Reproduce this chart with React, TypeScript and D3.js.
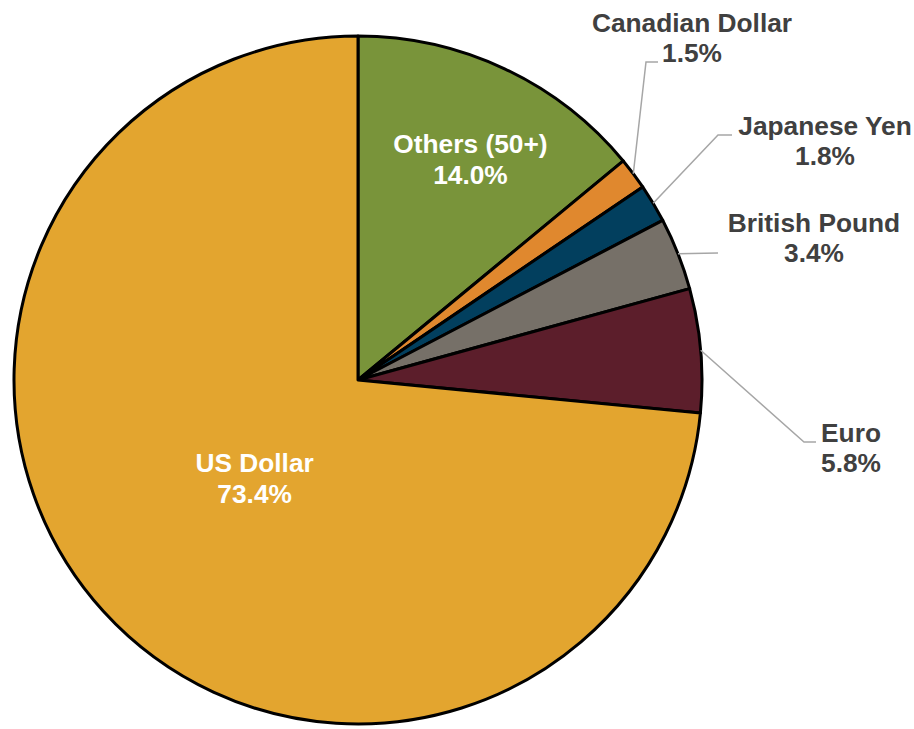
import React, { useEffect, useRef } from "react";
import * as d3 from "d3";

// Currency shares, clockwise from 12 o'clock
const currencies = ["Others (50+)", "Canadian Dollar", "Japanese Yen", "British Pound", "Euro", "US Dollar"];
const shares = [14.0, 1.5, 1.8, 3.4, 5.8, 73.4];
const colors = ["#79943a", "#e0882e", "#023f5e", "#767068", "#5c1e2b", "#e3a52f"];

// label placement (kept apart from the data)
const insideLabels: Record<string, { r: number; a?: number }> = {
  "Others (50+)": { r: 0.72, a: 27 },
  "US Dollar": { r: 0.415, a: 226.4 },
};
const outsideLabels: Record<string, { elbow: [number, number] | null; end: [number, number]; tx: number; ty: number }> = {
  "Canadian Dollar": { elbow: [646, 62], end: [658, 62], tx: 692, ty: 32 },
  "Japanese Yen": { elbow: [718, 135], end: [732, 135], tx: 825, ty: 135 },
  "British Pound": { elbow: null, end: [718, 253], tx: 814, ty: 232 },
  Euro: { elbow: [804, 442], end: [816, 442], tx: 851, ty: 442 },
};

const App = () => {
  const chartRef = useRef<HTMLDivElement>(null);

  useEffect(() => {
    document.body.style.margin = "0";
    const width = 914;
    const height = 729;
    const cx = 358;
    const cy = 380;
    const radius = 344;
    const font = "'Liberation Sans', Arial, sans-serif";
    const fontSize = 26.3;

    d3.select(chartRef.current).selectAll("*").remove();

    const svg = d3
      .select(chartRef.current)
      .append("svg")
      .attr("width", width)
      .attr("height", height)
      .style("display", "block");

    const data = currencies.map((name, i) => ({ name, value: shares[i], color: colors[i] }));

    const pie = d3
      .pie<any>()
      .sort(null)
      .value((d) => d.value);

    const arc = d3.arc<any>().innerRadius(0).outerRadius(radius);

    const arcs = pie(data);
    const g = svg.append("g").attr("transform", `translate(${cx},${cy})`);

    g.selectAll("path")
      .data(arcs)
      .join("path")
      .attr("d", arc)
      .attr("fill", (d) => d.data.color)
      .attr("stroke", "#000")
      .attr("stroke-width", 3)
      .attr("stroke-linejoin", "round");

    // labels inside slices (white)
    arcs.forEach((d) => {
      const lab = insideLabels[d.data.name];
      if (!lab) return;
      const ang = ((lab.a ?? ((d.startAngle + d.endAngle) / 2) * (180 / Math.PI)) * Math.PI) / 180;
      const x = cx + Math.sin(ang) * radius * lab.r;
      const y = cy - Math.cos(ang) * radius * lab.r;
      const t = svg
        .append("text")
        .attr("text-anchor", "middle")
        .attr("font-family", font)
        .attr("font-weight", "bold")
        .attr("font-size", fontSize)
        .attr("fill", "#fff");
      t.append("tspan").attr("x", x).attr("y", y - 6).text(d.data.name);
      t.append("tspan").attr("x", x).attr("y", y + 25).text(`${d.data.value.toFixed(1)}%`);
    });

    // outside labels with leader lines
    arcs.forEach((d) => {
      const lab = outsideLabels[d.data.name];
      if (!lab) return;
      const mid = (d.startAngle + d.endAngle) / 2;
      const p0: [number, number] = [cx + Math.sin(mid) * radius, cy - Math.cos(mid) * radius];
      const pts = [p0, ...(lab.elbow ? [lab.elbow] : []), lab.end];
      svg
        .append("path")
        .attr("d", d3.line()(pts))
        .attr("fill", "none")
        .attr("stroke", "#a6a6a6")
        .attr("stroke-width", 1.5);
      const t = svg
        .append("text")
        .attr("text-anchor", "middle")
        .attr("font-family", font)
        .attr("font-weight", "bold")
        .attr("font-size", fontSize)
        .attr("fill", "#404040");
      t.append("tspan").attr("x", lab.tx).attr("y", lab.ty).text(d.data.name);
      t.append("tspan").attr("x", lab.tx).attr("y", lab.ty + 30).text(`${d.data.value.toFixed(1)}%`);
    });
  }, []);

  return <div ref={chartRef}></div>;
};

export default App;
